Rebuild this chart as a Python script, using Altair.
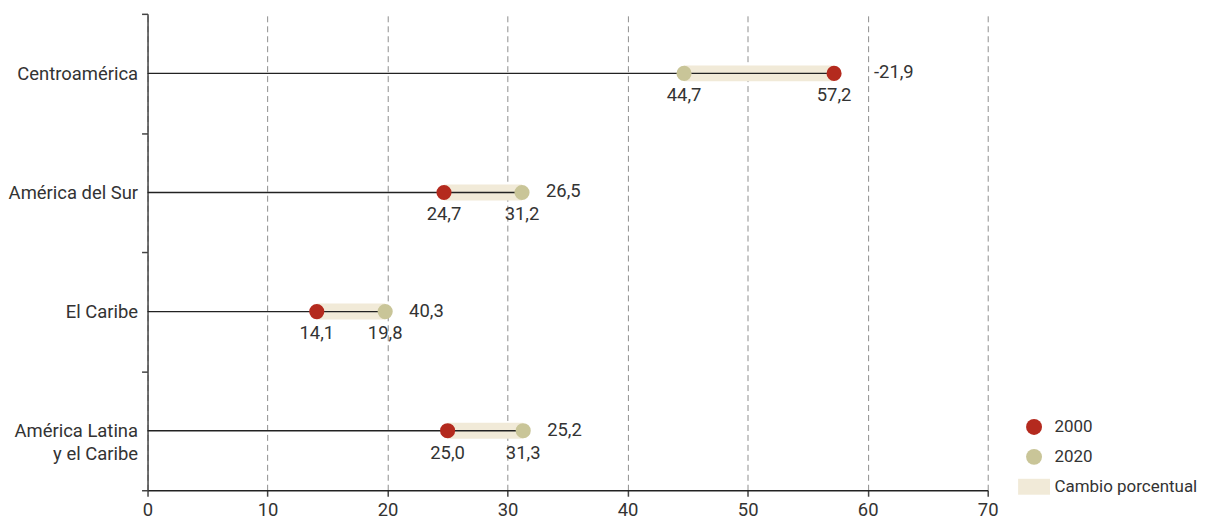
import altair as alt
import pandas as pd

regions = ["Centroamérica", "América del Sur", "El Caribe", "América Latina|y el Caribe"]
v2000 = [57.2, 24.7, 14.1, 25.0]
v2020 = [44.7, 31.2, 19.8, 31.3]
change = [-21.9, 26.5, 40.3, 25.2]
x_ticks = [0, 10, 20, 30, 40, 50, 60, 70]

RED = "#B42A1E"
OLIVE = "#C9C598"
BEIGE = "#F1EAD8"
FONT = "Roboto"
TXT = "#333333"
FS = 18.5


def fmt(v):
    return f"{v:.1f}".replace(".", ",")


wide = pd.DataFrame({
    "region": regions,
    "v2000": v2000,
    "v2020": v2020,
    "change": change,
})
wide["lo"] = wide[["v2000", "v2020"]].min(axis=1)
wide["hi"] = wide[["v2000", "v2020"]].max(axis=1)
wide["zero"] = 0
wide["change_lbl"] = [fmt(v) for v in change]

long = pd.DataFrame({
    "region": regions * 2,
    "value": v2000 + v2020,
    "serie": ["2000"] * 4 + ["2020"] * 4,
})
long["lbl"] = [fmt(v) for v in long["value"]]

yenc = alt.Y(
    "region:N",
    sort=regions,
    title=None,
    scale=alt.Scale(type="band", paddingInner=0, paddingOuter=0),
    axis=alt.Axis(
        labelExpr="datum.value ? split(datum.value, '|') : ''",
        tickBand="extent",
        tickSize=6,
        labelPadding=4,
        labelFontSize={"condition": {"test": "datum.value", "value": FS}, "value": 0},
        labelLineHeight=23,
        labelFont=FONT,
        labelColor=TXT,
        domainColor="#444444",
        tickColor="#444444",
        domainWidth=1.5,
        tickWidth=1.5,
    ),
)

xscale = alt.Scale(domain=[0, 70], nice=False, zero=True)
xaxis = alt.Axis(
    values=x_ticks,
    title=None,
    grid=True,
    gridDash=[6, 4],
    gridColor="#8f8f8f",
    gridWidth=1,
    tickSize=6,
    labelPadding=4,
    labelFlush=False,
    labelFontSize=FS,
    labelFont=FONT,
    labelColor=TXT,
    domainColor="#222222",
    tickColor="#444444",
    domainWidth=1.5,
    tickWidth=1.5,
)

base = alt.Chart(wide)

band = base.mark_bar(color=BEIGE, size=16).encode(
    x=alt.X("lo:Q", scale=xscale, axis=xaxis),
    x2="hi:Q",
    y=yenc,
)

rule = base.mark_rule(color="#222222", strokeWidth=1.4).encode(
    x=alt.X("zero:Q", scale=xscale),
    x2="hi:Q",
    y=alt.Y("region:N", sort=regions),
)

dom = ["2000", "2020", "Cambio porcentual"]
leg = alt.Legend(
    title=None,
    orient="none",
    legendX=881,
    legendY=406,
    labelFontSize=17,
    labelFont=FONT,
    labelColor=TXT,
    labelLimit=400,
    symbolSize=256,
    symbolStrokeWidth=0,
    symbolOpacity=1,
    rowPadding=12,
    labelOffset=12,
    padding=0,
)
points = alt.Chart(long).mark_point(filled=True, opacity=1, size=230, strokeWidth=0).encode(
    x=alt.X("value:Q", scale=xscale),
    y=alt.Y("region:N", sort=regions),
    color=alt.Color(
        "serie:N",
        scale=alt.Scale(domain=dom, range=[RED, OLIVE, BEIGE]),
        legend=leg,
    ),
    shape=alt.Shape(
        "serie:N",
        scale=alt.Scale(domain=dom, range=["circle", "circle", "M-2,-1H2V1H-2Z"]),
        legend=leg,
    ),
)

vals = alt.Chart(long).mark_text(
    fontSize=FS, font=FONT, color=TXT, baseline="middle", dy=22
).encode(
    x=alt.X("value:Q", scale=xscale),
    y=alt.Y("region:N", sort=regions),
    text="lbl:N",
)

chg_pos = base.transform_filter("datum.change >= 0").mark_text(
    fontSize=FS, font=FONT, color=TXT, baseline="middle", align="left", dx=24, dy=-1
).encode(
    x=alt.X("hi:Q", scale=xscale),
    y=alt.Y("region:N", sort=regions),
    text="change_lbl:N",
)

chg_neg = base.transform_filter("datum.change < 0").mark_text(
    fontSize=FS, font=FONT, color=TXT, baseline="middle", align="left", dx=40, dy=-1
).encode(
    x=alt.X("hi:Q", scale=xscale),
    y=alt.Y("region:N", sort=regions),
    text="change_lbl:N",
)

chart = (
    alt.layer(band, rule, points, vals, chg_pos, chg_neg)
    .properties(width=843, height=478, padding={"left": 0, "top": 4, "right": 0, "bottom": 0})
    .configure_view(stroke=None)
)

chart.save("out.html", embed_options={"renderer": "svg", "actions": False})
